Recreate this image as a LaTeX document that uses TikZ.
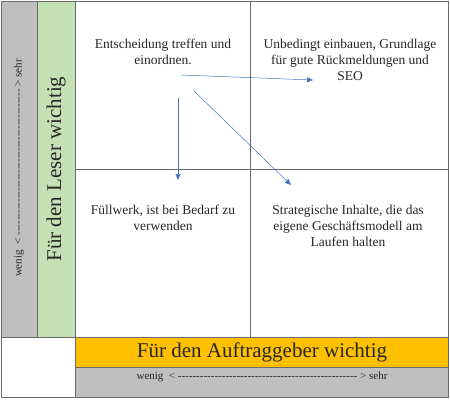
\documentclass[tikz,border=0pt]{standalone}
\usepackage{fontspec}
\setmainfont{Liberation Serif}
\usetikzlibrary{arrows.meta,positioning}
\definecolor{skalagrau}{RGB}{191,191,191}
\definecolor{lesergruen}{RGB}{197,224,180}
\definecolor{kundeorange}{RGB}{255,192,0}
\definecolor{rahmen}{RGB}{105,105,105}
\definecolor{pfeilblau}{RGB}{68,114,196}
\newcommand{\strichreihe}[1]{\foreach \n in {1,...,#1}{-{}}}
\tikzset{
  feld/.style={draw=rahmen, line width=0.8pt},
  feldtext/.style={align=center, font=\fontsize{13.5}{16}\selectfont, text=black!85},
  titel/.style={font=\fontsize{21}{24}\selectfont, text=black!85},
  skala/.style={font=\fontsize{11}{13}\selectfont, text=black!85},
  pfeil/.style={-{Triangle[length=6pt,width=5pt]}, draw=pfeilblau, line width=0.5pt},
}

\begin{document}
\begin{tikzpicture}[x=1pt,y=-1pt]
  \useasboundingbox (0,0) rectangle (450,400);
  % Streifen links
  \draw[feld, fill=skalagrau] (1,1) rectangle (37,337);
  \draw[feld, fill=lesergruen] (37,1) rectangle (75,337);
  % Matrix
  \draw[feld] (75,1) rectangle (448,169);
  \draw[feld] (75,169) rectangle (448,337);
  \draw[feld] (250,1) -- (250,337);
  % Streifen unten
  \draw[feld] (1,337) rectangle (75,397);
  \draw[feld, fill=kundeorange] (75,337) rectangle (448,367);
  \draw[feld, fill=skalagrau] (75,367) rectangle (448,397);

  % Achsen
  \node[titel, rotate=90] (leser) at (56,169) {Für den Leser wichtig};
  \node[skala, rotate=90] (leserskala) at (19,168)
    {wenig\ \ <\ \strichreihe{40} > sehr};
  \node[titel] (kunde) at (262,352) {Für den Auftraggeber wichtig};
  \node[skala] (kundeskala) at (262,377)
    {wenig\ \ <\ \strichreihe{49} > sehr};

  % Felder
  \node[feldtext] (entscheiden) at (163,52) {Entscheidung treffen und\\einordnen.};
  \node[feldtext] (einbauen) at (350,60) {Unbedingt einbauen, Grundlage\\für gute Rückmeldungen und\\SEO};
  \node[feldtext] (fuellwerk) at (163,218) {Füllwerk, ist bei Bedarf zu\\verwenden};
  \node[feldtext] (strategie) at (348,226) {Strategische Inhalte, die das\\eigene Geschäftsmodell am\\Laufen halten};

  % Pfeile
  \coordinate (p1) at (181,75);
  \coordinate (z1) at (313,80);
  \coordinate (p2) at (178,98);
  \coordinate (z2) at (178,180);
  \coordinate (p3) at (194,91);
  \coordinate (z3) at (291,185);
  \draw[pfeil] (p1) -- (z1);
  \draw[pfeil] (p2) -- (z2);
  \draw[pfeil] (p3) -- (z3);
\end{tikzpicture}
\end{document}
